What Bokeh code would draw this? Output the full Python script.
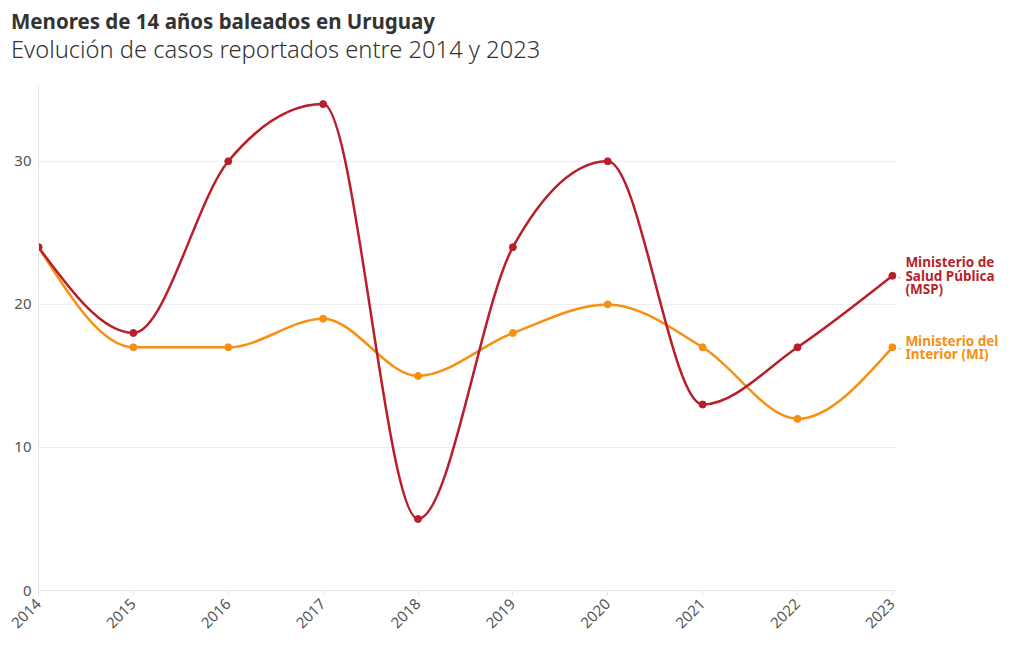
import numpy as np
from bokeh.plotting import figure
from bokeh.layouts import column
from bokeh.models import Range1d, FixedTicker, ColumnDataSource, Div
from bokeh.core.properties import value
from bokeh.embed import file_html
from bokeh.resources import INLINE

years = [2014, 2015, 2016, 2017, 2018, 2019, 2020, 2021, 2022, 2023]
msp = [24, 18, 30, 34, 5, 24, 30, 13, 17, 22]
mi = [24, 17, 17, 19, 15, 18, 20, 17, 12, 17]
series_names = ["Ministerio de\nSalud Pública\n(MSP)", "Ministerio del\nInterior (MI)"]
colors = ["#b91f2a", "#f78f10"]
y_ticks = [0, 10, 20, 30]
grid_ticks = [10, 20, 30]
title_text = "Menores de 14 años baleados en Uruguay"
subtitle_text = "Evolución de casos reportados entre 2014 y 2023"

FONTS = "Noto Sans"
X_END = 2023.042  # visible end of the plotting area (grid/axis)


def monotone_beziers(xs, ys):
    """Monotone-X cubic (as in d3.curveMonotoneX) expressed as bezier control points."""
    x = np.asarray(xs, float)
    y = np.asarray(ys, float)
    n = len(x)
    t = np.zeros(n)
    h = np.diff(x)
    s = np.diff(y) / h
    for i in range(1, n - 1):
        h0, h1 = h[i - 1], h[i]
        s0, s1 = s[i - 1], s[i]
        p = (s0 * h1 + s1 * h0) / (h0 + h1)
        t[i] = (np.sign(s0) + np.sign(s1)) * min(abs(s0), abs(s1), 0.5 * abs(p))
    t[0] = (3 * s[0] - t[1]) / 2
    t[-1] = (3 * s[-1] - t[-2]) / 2
    dx = h / 3
    return dict(
        x0=x[:-1], y0=y[:-1], x1=x[1:], y1=y[1:],
        cx0=x[:-1] + dx, cy0=y[:-1] + dx * t[:-1],
        cx1=x[1:] - dx, cy1=y[1:] - dx * t[1:],
    )


header = Div(
    text=(
        f'<div style="padding-left:11px;padding-top:7px;color:#333333;font-family:\'Noto Sans\';">'
        f'<div style="font-size:20.5px;font-weight:bold;line-height:28px;white-space:nowrap;">{title_text}</div>'
        f'<div style="font-size:23.7px;font-weight:300;line-height:28px;white-space:nowrap;">{subtitle_text}</div>'
        f'</div>'
    ),
    width=1004, height=72, margin=(0, 0, 0, 0),
)

p = figure(width=1004, height=570, output_backend="svg", toolbar_location=None,
           x_range=Range1d(2014, 2024.15), y_range=Range1d(0, 35.3),
           min_border_left=38, min_border_right=3, min_border_top=13, min_border_bottom=52,
           background_fill_color="white", border_fill_color="white")
p.outline_line_color = None
p.margin = (0, 0, 0, 0)

# grid
p.xgrid.visible = False
p.ygrid.visible = False
p.segment(x0=[years[0]] * len(grid_ticks), x1=[X_END] * len(grid_ticks),
          y0=grid_ticks, y1=grid_ticks, line_color="#ececec", line_width=1)

# axes
p.xaxis.ticker = FixedTicker(ticks=years)
p.xaxis.bounds = (years[0], X_END)
p.xaxis.major_label_orientation = np.pi / 4
p.xaxis.axis_line_color = "#e6e6e6"
p.xaxis.major_tick_line_color = "#e6e6e6"
p.xaxis.major_tick_out = 5
p.xaxis.major_tick_in = 0
p.xaxis.minor_tick_line_color = None
p.xaxis.major_label_text_font = FONTS
p.xaxis.major_label_text_font_size = "15px"
p.xaxis.major_label_text_color = "#555555"
p.xaxis.major_label_standoff = 6

p.yaxis.ticker = FixedTicker(ticks=y_ticks)
p.yaxis.axis_line_color = "#e6e6e6"
p.yaxis.major_tick_line_color = None
p.yaxis.minor_tick_line_color = None
p.yaxis.major_label_text_font = FONTS
p.yaxis.major_label_text_font_size = "15px"
p.yaxis.major_label_text_color = "#555555"
p.yaxis.major_label_standoff = 1

for vals, color, name in zip([mi, msp], [colors[1], colors[0]], [series_names[1], series_names[0]]):
    src = ColumnDataSource(monotone_beziers(years, vals))
    p.bezier(x0="x0", y0="y0", x1="x1", y1="y1", cx0="cx0", cy0="cy0", cx1="cx1", cy1="cy1",
             source=src, line_color=color, line_width=2.5)
    p.scatter(x=years, y=vals, size=7, fill_color=color, line_color=color)
    p.text(x=[years[-1]], y=[vals[-1]], text=["-"], x_offset=5,
           text_font=value(FONTS), text_font_size="11px", text_color="#bbbbbb",
           text_baseline="middle", text_align="left")
    p.text(x=[years[-1]], y=[vals[-1]], text=[name], x_offset=13,
           text_font=value(FONTS), text_font_size="13.5px", text_font_style="bold",
           text_color=color, text_baseline="middle", text_align="left",
           text_line_height=0.74)

layout = column(header, p, spacing=0)
open("out.html", "w").write(file_html(layout, INLINE))
